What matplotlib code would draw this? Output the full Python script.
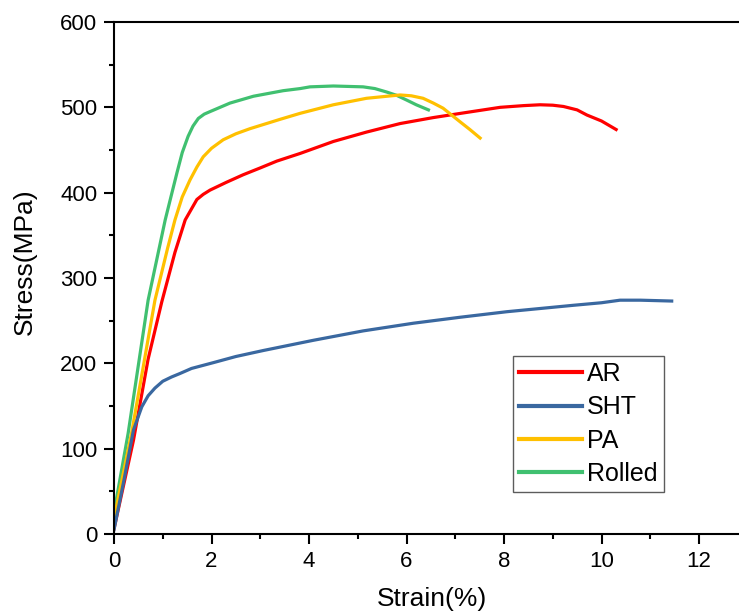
import matplotlib
matplotlib.use('Agg')
import matplotlib.pyplot as plt
from matplotlib.ticker import MultipleLocator

plt.rcParams['font.family'] = ['Liberation Sans', 'DejaVu Sans']

# stress-strain curves
ar_strain = [0, 0.4, 0.7, 0.98, 1.25, 1.46, 1.6, 1.7, 1.83, 1.97, 2.3, 2.65, 3.0, 3.34,
             3.82, 4.5, 5.18, 5.87, 6.55, 7.23, 7.92, 8.4, 8.74, 9.0, 9.22, 9.5, 9.7, 10.0, 10.3]
ar_stress = [6, 110, 205, 272, 330, 368, 382, 392, 398, 403, 412, 421, 429, 437,
             446, 460, 471, 481, 488, 494, 500, 502, 503, 502.5, 501, 497, 491, 484, 474]

sht_strain = [0, 0.2, 0.4, 0.57, 0.7, 0.84, 1.0, 1.18, 1.35, 1.59, 2.05, 2.5, 3.06, 4.09,
              5.11, 6.14, 7.1, 8.06, 9.42, 10.0, 10.38, 10.8, 11.44]
sht_stress = [5, 62, 122, 149, 162, 171, 179, 184, 188, 194, 201, 208, 215, 227,
              238, 247, 254, 260.5, 268, 271, 274, 274, 273]

pa_strain = [0, 0.36, 0.84, 1.1, 1.25, 1.4, 1.56, 1.7, 1.83, 2.0, 2.24, 2.5, 2.79, 3.41,
             3.82, 4.5, 5.18, 5.6, 5.87, 6.1, 6.34, 6.55, 6.75, 7.1, 7.3, 7.51]
pa_stress = [18, 118, 274, 335, 368, 395, 415, 430, 442, 452, 462, 469, 475, 486,
             493, 503, 510.6, 513, 514.5, 513.5, 510.6, 505, 499, 483, 474, 464]

rolled_strain = [0, 0.29, 0.7, 1.05, 1.15, 1.29, 1.4, 1.52, 1.62, 1.73, 1.85, 1.97, 2.38,
                 2.86, 3.47, 3.82, 4.02, 4.5, 5.11, 5.35, 5.59, 5.8, 6.0, 6.2, 6.45]
rolled_stress = [25, 118, 274, 368, 391, 423, 447, 466, 478, 487, 492, 495, 505,
                 513, 519.5, 522, 524, 525, 524, 522, 518, 514, 508.6, 503, 497]

W, H = 739, 615
fig = plt.figure(figsize=(W / 100, H / 100), dpi=100)
# axes runs a little past the right edge of the picture, as in the original
ax = fig.add_axes([114 / W, (H - 534) / H, 633.75 / W, 512 / H])

lw = 2.3
ax.plot(ar_strain, ar_stress, color='#FF0000', lw=lw, label='AR', zorder=2)
ax.plot(sht_strain, sht_stress, color='#3A68A0', lw=lw, label='SHT', zorder=2.3)
ax.plot(pa_strain, pa_stress, color='#FFC000', lw=lw, label='PA', zorder=2.2)
ax.plot(rolled_strain, rolled_stress, color='#40C070', lw=lw, label='Rolled', zorder=2.1)

ax.set_xlim(0, 13)
ax.set_ylim(0, 600)
ax.xaxis.set_major_locator(MultipleLocator(2))
ax.xaxis.set_minor_locator(MultipleLocator(1))
ax.yaxis.set_major_locator(MultipleLocator(100))
ax.yaxis.set_minor_locator(MultipleLocator(50))
ax.tick_params(which='major', direction='out', length=7, width=1.5, labelsize=16, pad=5)
ax.tick_params(which='minor', direction='out', length=3.5, width=1.5)
for s in ax.spines.values():
    s.set_linewidth(1.5)

ax.set_xlabel('Strain(%)', fontsize=19)
ax.set_ylabel('Stress(MPa)', fontsize=19)
ax.xaxis.set_label_coords(0.502, -0.103)
ax.yaxis.set_label_coords(-0.122, 0.531)

leg = ax.legend(loc='upper left', bbox_to_anchor=(0.6296, 0.3477), borderaxespad=0,
                fontsize=18, frameon=True, fancybox=False, handlelength=2.5,
                handletextpad=0.2, labelspacing=0.37, borderpad=0.25)
leg.get_frame().set_edgecolor('#333333')
leg.get_frame().set_linewidth(1.0)
for line in leg.get_lines():
    line.set_linewidth(3)

fig.savefig('out.png', dpi=100)
